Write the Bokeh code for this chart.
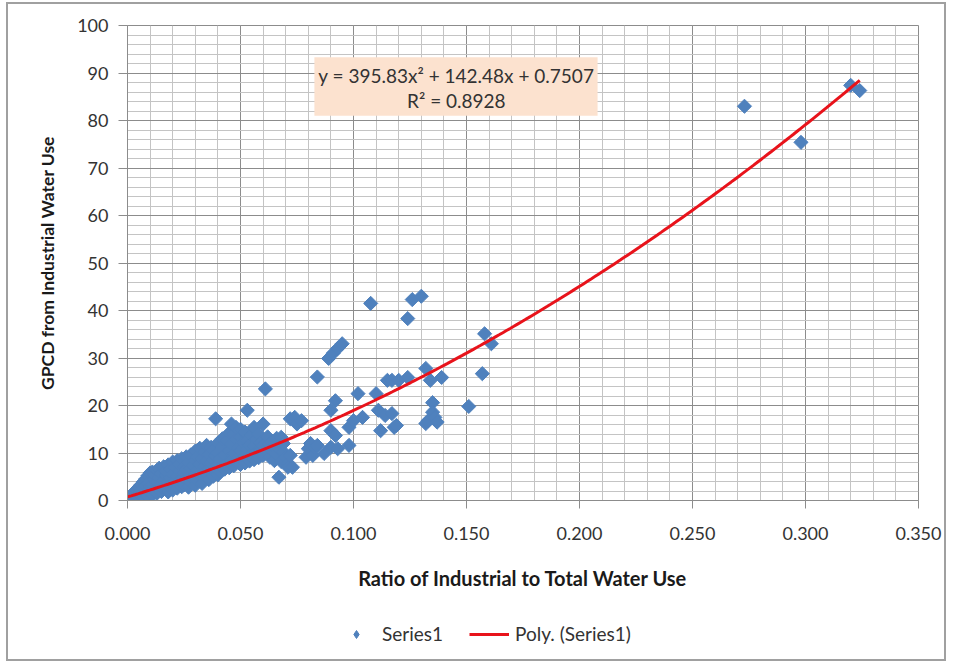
from bokeh.plotting import figure
from bokeh.layouts import column
from bokeh.models import (SingleIntervalTicker, FixedTicker, NumeralTickFormatter, BoxAnnotation,
                          Label, Legend, LegendItem, ColumnDataSource)
from bokeh.embed import file_html
from bokeh.resources import INLINE
import numpy as np

# ---- data ----
ratio = [
    0.000, 0.001, 0.001, 0.002, 0.002, 0.003, 0.003, 0.003, 0.004, 0.004, 0.005, 0.005, 0.005,
    0.006, 0.006, 0.006, 0.007, 0.007, 0.007, 0.008, 0.008, 0.008, 0.009, 0.009, 0.009, 0.009,
    0.010, 0.010, 0.010, 0.010,
    0.011, 0.011, 0.011, 0.012, 0.012, 0.012, 0.013, 0.013, 0.013, 0.014, 0.014, 0.014, 0.015,
    0.015, 0.015, 0.016, 0.016, 0.016, 0.017, 0.017, 0.017, 0.018, 0.018, 0.018, 0.019, 0.019,
    0.019, 0.020, 0.020, 0.020, 0.020,
    0.021, 0.021, 0.022, 0.022, 0.022, 0.023, 0.023, 0.023, 0.024, 0.024, 0.024, 0.025, 0.025,
    0.025, 0.026, 0.026, 0.026, 0.027, 0.027, 0.027, 0.028, 0.028, 0.028, 0.029, 0.029, 0.030,
    0.030, 0.030, 0.030,
    0.031, 0.031, 0.031, 0.032, 0.032, 0.032, 0.033, 0.033, 0.033, 0.034, 0.034, 0.034, 0.035,
    0.035, 0.035, 0.036, 0.036, 0.036, 0.037, 0.037, 0.037, 0.038, 0.038, 0.038, 0.039, 0.039,
    0.039, 0.040, 0.040, 0.040, 0.040,
    0.041, 0.041, 0.042, 0.042, 0.042, 0.043, 0.043, 0.044, 0.044, 0.045, 0.045, 0.045, 0.046,
    0.046, 0.046, 0.047, 0.047, 0.047, 0.048, 0.048, 0.048, 0.049, 0.049, 0.050, 0.050, 0.050,
    0.050,
    0.051, 0.051, 0.052, 0.052, 0.052, 0.053, 0.053, 0.053, 0.054, 0.054, 0.055, 0.055, 0.056,
    0.056, 0.056, 0.057, 0.057, 0.058, 0.058, 0.059, 0.059, 0.060, 0.060, 0.060, 0.061,
    0.062, 0.062, 0.063, 0.063, 0.064, 0.064, 0.065, 0.065, 0.066, 0.066, 0.067, 0.067, 0.068,
    0.068, 0.069, 0.069, 0.070, 0.071, 0.071, 0.072, 0.072, 0.073, 0.074, 0.075, 0.077,
    0.079, 0.080, 0.081, 0.082, 0.083, 0.084, 0.084, 0.087, 0.089, 0.090, 0.090, 0.090, 0.091,
    0.092, 0.092, 0.093, 0.093, 0.095, 0.098, 0.098, 0.100, 0.102, 0.104,
    0.1076, 0.110, 0.111, 0.112, 0.114, 0.115, 0.117, 0.117, 0.118, 0.119, 0.120, 0.124, 0.124,
    0.126, 0.130, 0.132, 0.134, 0.135, 0.135, 0.133, 0.136, 0.137, 0.132, 0.139, 0.151, 0.157,
    0.158, 0.161, 0.273, 0.298, 0.320, 0.324,
]
gpcd = [
    0.1, 0.3, 0.8, 0.5, 1.2, 0.4, 1.0, 1.8, 0.9, 2.2, 0.6, 1.5, 2.8,
    1.1, 2.0, 3.3, 0.8, 2.5, 3.9, 1.4, 3.0, 4.5, 0.9, 2.1, 3.6, 5.2,
    1.6, 2.9, 4.1, 5.8,
    1.2, 3.3, 6.0, 2.2, 4.6, 5.4, 1.5, 3.8, 6.3, 2.7, 4.9, 6.8, 1.9,
    3.4, 5.7, 2.5, 4.2, 7.1, 3.0, 5.3, 6.2, 1.8, 3.9, 7.5, 2.9, 4.8,
    6.6, 3.5, 5.5, 8.1, 2.2,
    4.0, 6.9, 2.6, 5.1, 8.4, 3.7, 6.2, 7.6, 2.9, 4.6, 8.8, 3.3, 5.8,
    7.2, 4.4, 6.5, 9.2, 2.8, 5.0, 8.0, 3.9, 6.8, 9.6, 4.7, 7.4, 3.2,
    5.6, 8.5, 10.4,
    4.2, 6.4, 9.1, 5.3, 7.7, 11.0, 3.6, 6.0, 8.9, 4.8, 7.1, 10.2, 5.6,
    8.3, 11.6, 4.4, 6.7, 9.7, 5.9, 7.9, 11.2, 5.1, 8.6, 10.6, 6.3, 9.3,
    17.2, 5.4, 7.5, 12.1, 10.0,
    6.1, 8.8, 7.0, 11.4, 13.0, 6.6, 9.6, 7.8, 12.6, 6.9, 10.4, 14.2, 8.4,
    16.1, 11.9, 7.3, 9.9, 14.0, 8.1, 12.8, 15.4, 9.0, 11.1, 7.6, 10.5, 13.3,
    15.0,
    8.7, 12.2, 9.4, 14.4, 7.9, 10.8, 12.6, 19.0, 8.3, 11.7, 9.8, 13.8, 8.6,
    15.4, 11.3, 10.1, 12.9, 9.0, 14.0, 10.7, 12.1, 9.5, 16.1, 11.6, 23.5,
    10.2, 13.4, 9.1, 11.9, 10.6, 12.5, 8.4, 11.2, 9.7, 13.1, 4.9, 10.9, 13.3,
    8.2, 10.2, 12.0, 9.1, 7.8, 7.0, 9.5, 17.2, 7.0, 17.5, 16.1, 16.8,
    9.1, 10.9, 12.0, 9.5, 11.2, 11.6, 26.0, 9.9, 29.9, 11.2, 14.7, 19.0, 31.0,
    13.7, 21.0, 10.9, 32.0, 33.0, 15.4, 11.6, 16.8, 22.5, 17.5,
    41.5, 22.5, 19.0, 14.7, 17.9, 25.3, 18.3, 25.3, 15.4, 15.8, 25.3, 25.9, 38.3,
    42.3, 43.0, 27.8, 25.3, 20.6, 18.6, 16.8, 17.5, 16.5, 16.2, 25.9, 19.8, 26.7,
    35.1, 33.0, 83.0, 75.4, 87.4, 86.3,
]

# trend line coefficients as printed on the chart: y = a2 x^2 + a1 x + a0
trend_coef = [395.83, 142.48, 0.7507]
trend_x_range = [0.0, 0.324]
x_major_ticks = [0.0, 0.05, 0.10, 0.15, 0.20, 0.25, 0.30, 0.35]
equation_text = "y = 395.83x\u00b2 + 142.48x + 0.7507"
r2_text = "R\u00b2 = 0.8928"
series_labels = ["Series1", "Poly. (Series1)"]

FONT = "Lato"
BLUE = "#4F81BD"
RED = "#E8131B"
W = 936

p = figure(width=W, height=596, x_range=(0, 0.35), y_range=(0, 100),
           output_backend="svg", toolbar_location=None,
           min_border_left=119, min_border_right=26, min_border_top=21, min_border_bottom=100)
p.background_fill_color = "white"
p.border_fill_color = "white"
p.outline_line_color = "#8C8C8C"

# axes
x_minor = [round(v, 3) for v in np.arange(0, 0.3501, 0.01)]
p.xaxis.ticker = FixedTicker(ticks=x_major_ticks, minor_ticks=x_minor)
p.yaxis.ticker = SingleIntervalTicker(interval=10, num_minor_ticks=5)
p.xaxis.formatter = NumeralTickFormatter(format="0.000")
for ax in (p.xaxis[0], p.yaxis[0]):
    ax.axis_line_color = "#8C8C8C"
    ax.major_tick_line_color = "#8C8C8C"
    ax.minor_tick_line_color = None
    ax.major_tick_in = 0
    ax.major_label_text_font = FONT
    ax.major_label_text_font_size = "18px"
    ax.major_label_text_color = "#333333"
    ax.axis_label_text_font = FONT
    ax.axis_label_text_font_style = "bold"
    ax.axis_label_text_color = "#1a1a1a"
p.xaxis.axis_label_text_font_size = "20px"
p.yaxis.axis_label_text_font_size = "17.5px"
p.xaxis.major_tick_out = 8
p.yaxis.major_tick_out = 9
p.xaxis.major_label_standoff = 18
p.yaxis.major_label_standoff = 10
p.xaxis.axis_label = "Ratio of Industrial to Total Water Use"
p.yaxis.axis_label = "GPCD from Industrial Water Use"
p.xaxis.axis_label_standoff = 23
p.yaxis.axis_label_standoff = 16

# grids
for g in (p.xgrid[0], p.ygrid[0]):
    g.grid_line_color = "#8C8C8C"
    g.grid_line_width = 1
    g.minor_grid_line_color = "#C4C4C4"
    g.minor_grid_line_width = 1

src = ColumnDataSource(dict(x=ratio, y=gpcd))
pts = p.scatter("x", "y", source=src, marker="square", angle=np.pi / 4, size=10,
                fill_color=BLUE, line_color=BLUE)

tx = np.linspace(trend_x_range[0], trend_x_range[1], 200)
ty = trend_coef[0] * tx ** 2 + trend_coef[1] * tx + trend_coef[2]
ln = p.line(tx, ty, line_color=RED, line_width=3)

# equation box
p.add_layout(BoxAnnotation(left=0.0827, right=0.208, bottom=81.0, top=93.3,
                           fill_color="#FCE2CF", fill_alpha=1, line_color=None))
for txt, yy in ((equation_text, 89.4), (r2_text, 84.3)):
    p.add_layout(Label(x=0.1455, y=yy, text=txt, text_align="center", text_baseline="middle",
                       text_font=FONT, text_font_size="19px", text_color="#333333"))

# legend strip below the chart (same series, drawn outside this strip's visible ranges)
lf = figure(width=W, height=59, x_range=(10, 11), y_range=(1000, 1001),
            output_backend="svg", toolbar_location=None,
            x_axis_type=None, y_axis_type=None,
            min_border_left=0, min_border_right=0, min_border_top=0, min_border_bottom=0)
lf.grid.visible = False
lf.outline_line_color = None
lf.background_fill_color = "white"
lf.border_fill_color = "white"
lg_pts = lf.scatter(ratio, gpcd, marker="diamond", size=12,
                    fill_color=BLUE, line_color=BLUE)
lg_ln = lf.line(tx, ty, line_color=RED, line_width=3)
legend = Legend(items=[LegendItem(label=series_labels[0], renderers=[lg_pts]),
                       LegendItem(label=series_labels[1], renderers=[lg_ln])],
                orientation="horizontal", location=(209, 14),
                label_text_font=FONT, label_text_font_size="19px", label_text_color="#333333",
                glyph_width=40, glyph_height=20, label_standoff=6, spacing=26, padding=0,
                margin=0, border_line_color=None, background_fill_alpha=0)
lf.add_layout(legend, "center")

layout = column(p, lf, spacing=0)
layout.styles = {"margin-left": "6px", "margin-top": "2px", "border": "2px solid #a0a0a0"}

open("out.html", "w").write(file_html(layout, INLINE))
